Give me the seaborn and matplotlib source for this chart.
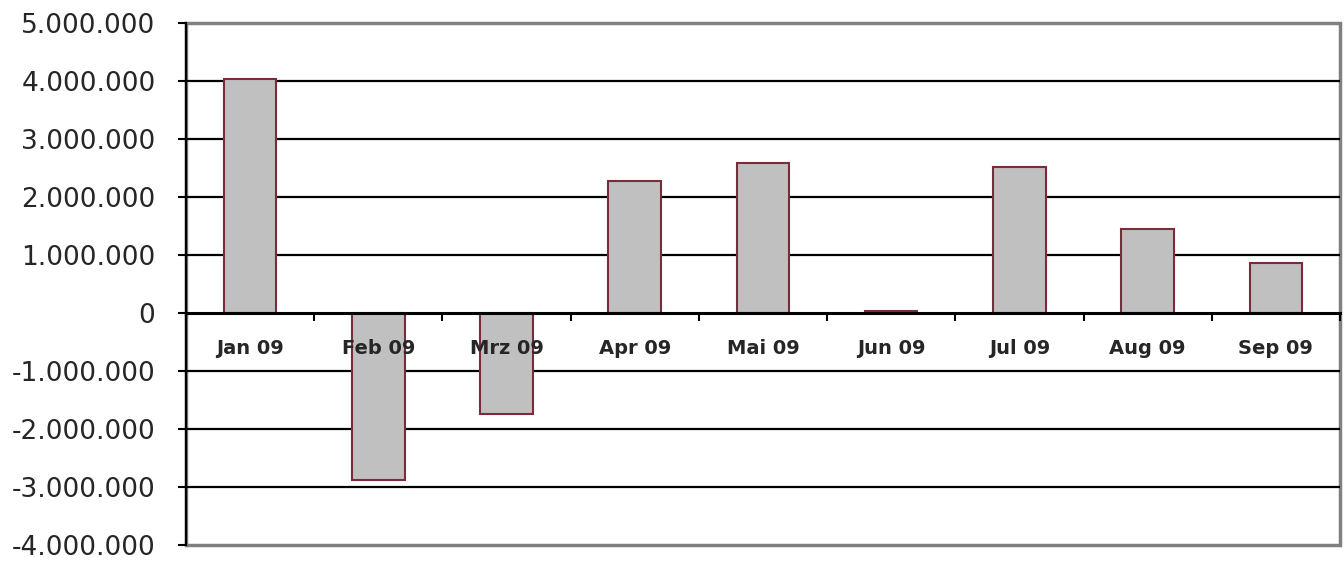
import numpy as np
import pandas as pd
import matplotlib
matplotlib.use("Agg")
import matplotlib.pyplot as plt
import seaborn as sns

# Monthly values
months = ["Jan 09", "Feb 09", "Mrz 09", "Apr 09", "Mai 09", "Jun 09", "Jul 09", "Aug 09", "Sep 09"]
values = [4030000, -2880000, -1740000, 2270000, 2590000, 30000, 2510000, 1450000, 860000]
y_ticks = [-4000000, -3000000, -2000000, -1000000, 0, 1000000, 2000000, 3000000, 4000000, 5000000]

df = pd.DataFrame({"Monat": months, "Wert": values})

sns.set_style("white")
plt.rcParams['font.family'] = ['DejaVu Sans']

fig = plt.figure(figsize=(13.44, 5.62), dpi=100)
ax = fig.add_axes([0.1384, 0.0302, 0.997 - 0.1384, 0.959 - 0.0302])

# gridlines behind bars (inner ones only, the frame is gray)
for t in y_ticks[1:-1]:
    if t != 0:
        ax.axhline(t, color="black", lw=1.6, zorder=0)

sns.barplot(data=df, x="Monat", y="Wert", color="#C0C0C0", edgecolor="#7B2C3B",
            linewidth=1.5, width=0.41, saturation=1, ax=ax, zorder=1)

ax.set_axisbelow(False)
ax.set_ylim(-4000000, 5000000)
ax.set_xlim(-0.5, len(months) - 0.5)
ax.set_yticks(y_ticks)
ax.set_yticklabels([f"{t:,}".replace(",", ".") for t in y_ticks], fontsize=19)
ax.set_xlabel("")
ax.set_ylabel("")

# frame: gray box, black left axis, x axis at zero
ax.patch.set_edgecolor("#808080")
ax.patch.set_linewidth(2.5)
for s in ["top", "right"]:
    ax.spines[s].set_visible(False)
ax.spines["left"].set_color("black")
ax.spines["left"].set_linewidth(1.6)
ax.spines["bottom"].set_position(("data", 0))
ax.spines["bottom"].set_color("black")
ax.spines["bottom"].set_linewidth(2.2)

ax.tick_params(axis="y", direction="out", length=6, width=1.5, color="black", left=True, pad=16)
ax.set_xticks(np.arange(len(months)))
ax.set_xticklabels(months, fontsize=14, fontweight="bold")
ax.set_xticks(np.arange(len(months) + 1) - 0.5, minor=True)
ax.tick_params(axis="x", which="major", length=0, pad=19, bottom=True)
ax.tick_params(axis="x", which="minor", direction="out", length=6, width=1.5, color="black", bottom=True)

fig.savefig("out.png", dpi=100)
